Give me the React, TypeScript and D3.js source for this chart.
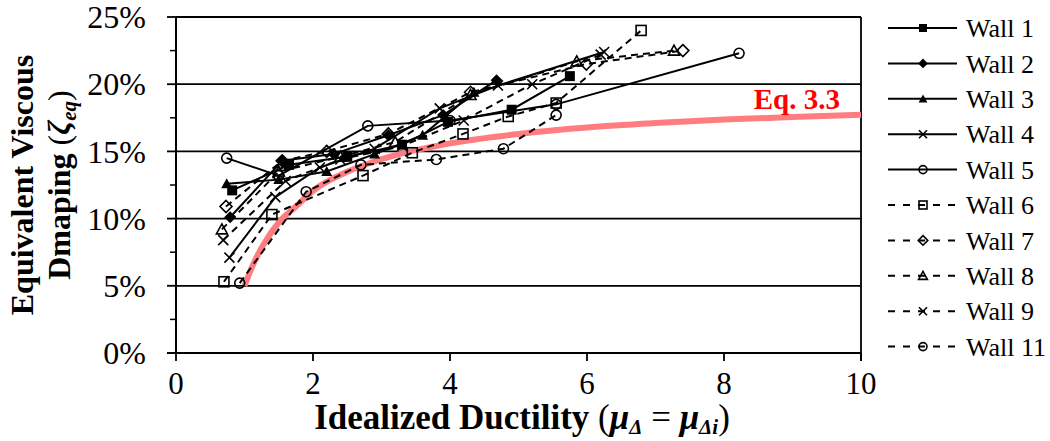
import React from "react";
import * as d3 from "d3";

const W = 1050;
const H = 441;

// x ticks / y ticks
const xTicks = [0, 2, 4, 6, 8, 10];
const yTicks = [0, 5, 10, 15, 20, 25];
const yMinorTicks = [2.5, 7.5, 12.5, 17.5, 22.5];

// series: [ductility, damping %]
const wall1 = [[0.82, 12.1], [1.65, 14.0], [2.5, 14.6], [3.3, 15.5], [3.97, 17.2], [4.9, 18.1], [5.75, 20.6]];
const wall2 = [[0.79, 10.1], [1.55, 14.3], [2.3, 14.8], [3.1, 16.2], [3.9, 17.7], [4.68, 20.3]];
const wall3 = [[0.74, 12.6], [1.5, 12.9], [2.2, 13.5], [2.9, 14.8], [3.6, 16.2], [4.35, 19.4]];
const wall4 = [[0.78, 7.1], [1.45, 11.6], [2.1, 13.8], [2.9, 15.2], [3.85, 18.2], [4.7, 19.9], [6.25, 22.4]];
const wall5 = [[0.74, 14.5], [1.5, 13.2], [2.8, 16.9], [4.0, 17.3], [5.55, 18.5], [8.22, 22.3]];
const wall6 = [[0.7, 5.3], [1.4, 10.3], [2.73, 13.2], [3.45, 14.9], [4.19, 16.3], [4.85, 17.6], [5.55, 18.6], [6.79, 24.0]];
const wall7 = [[0.73, 10.9], [1.55, 14.3], [2.2, 15.0], [3.1, 16.3], [4.3, 19.4], [5.99, 21.5], [7.4, 22.5]];
const wall8 = [[0.67, 9.2], [1.5, 13.5], [2.4, 14.6], [3.2, 15.7], [4.3, 19.2], [5.85, 21.7], [7.27, 22.5]];
const wall9 = [[0.69, 8.4], [1.6, 12.8], [2.4, 14.4], [3.3, 15.4], [4.2, 17.3], [5.2, 20.0], [6.2, 22.2]];
const wall11 = [[0.93, 5.2], [1.9, 12.0], [2.7, 14.0], [3.8, 14.4], [4.78, 15.2], [5.55, 17.7]];

// Eq. 3.3 curve
const eqMu = [1.0, 1.1, 1.2, 1.3, 1.5, 1.75, 2, 2.5, 3, 4, 5, 6, 7, 8, 9, 10];
const eqZeta = [5.0, 6.28, 7.36, 8.26, 9.71, 10.9, 12.07, 13.48, 14.42, 15.6, 16.3, 16.78, 17.11, 17.37, 17.56, 17.72];

const names = ["Wall 1", "Wall 2", "Wall 3", "Wall 4", "Wall 5", "Wall 6", "Wall 7", "Wall 8", "Wall 9", "Wall 11"];
const markers = ["sqf", "diaf", "trif", "x", "circ", "sq", "dia", "tri", "x", "circ"];
const dashed = [false, false, false, false, false, true, true, true, true, true];
const data = [wall1, wall2, wall3, wall4, wall5, wall6, wall7, wall8, wall9, wall11];

const FONT = "'Liberation Serif', 'Times New Roman', serif";

function Marker({ type, x, y, s }: { type: string; x: number; y: number; s: number }) {
  const h = s / 2;
  const sw = 1.6;
  switch (type) {
    case "sqf":
      return <rect x={x - h} y={y - h} width={s} height={s} fill="#000" />;
    case "sq":
      return <rect x={x - h} y={y - h} width={s} height={s} fill="none" stroke="#000" strokeWidth={sw} />;
    case "diaf":
      return <path d={`M${x},${y - h * 1.2}L${x + h * 1.2},${y}L${x},${y + h * 1.2}L${x - h * 1.2},${y}Z`} fill="#000" />;
    case "dia":
      return <path d={`M${x},${y - h * 1.2}L${x + h * 1.2},${y}L${x},${y + h * 1.2}L${x - h * 1.2},${y}Z`} fill="none" stroke="#000" strokeWidth={sw} />;
    case "trif":
      return <path d={`M${x},${y - h * 1.1}L${x + h * 1.1},${y + h * 0.9}L${x - h * 1.1},${y + h * 0.9}Z`} fill="#000" />;
    case "tri":
      return <path d={`M${x},${y - h * 1.1}L${x + h * 1.1},${y + h * 0.9}L${x - h * 1.1},${y + h * 0.9}Z`} fill="none" stroke="#000" strokeWidth={sw} />;
    case "x":
      return <path d={`M${x - h},${y - h}L${x + h},${y + h}M${x - h},${y + h}L${x + h},${y - h}`} stroke="#000" strokeWidth={sw} />;
    case "circ":
      return <circle cx={x} cy={y} r={h} fill="none" stroke="#000" strokeWidth={sw} />;
  }
  return null;
}

export default function App() {
  const x = d3.scaleLinear().domain([0, 10]).range([176, 861]);
  const y = d3.scaleLinear().domain([0, 25]).range([353, 17]);
  const line = d3.line<number[]>().x((d) => x(d[0])).y((d) => y(d[1]));
  const eqPts = eqMu.map((m, i) => [m, eqZeta[i]]);
  const eqLine = d3.line<number[]>().x((d) => x(d[0])).y((d) => y(d[1])).curve(d3.curveMonotoneX);

  const legX0 = 888, legX1 = 957, legMX = 923, legTX = 966;
  const legY = (i: number) => 28 + i * 35.4;

  return (
    <svg width={W} height={H} style={{ position: "absolute", left: 0, top: 0 }} fontFamily={FONT}>
      <rect width={W} height={H} fill="#fff" />
      {/* gridlines */}
      {yTicks.filter((t) => t > 0).map((t) => (
        <line key={t} x1={x(0)} x2={x(10)} y1={y(t)} y2={y(t)} stroke="#000" strokeWidth={1.8} />
      ))}
      {/* axes */}
      <line x1={x(0)} x2={x(0)} y1={y(25)} y2={y(0)} stroke="#000" strokeWidth={2} />
      <line x1={x(10)} x2={x(10)} y1={y(25)} y2={y(0) + 8} stroke="#000" strokeWidth={1.8} />
      <line x1={x(0) - 9} x2={x(10)} y1={y(0)} y2={y(0)} stroke="#000" strokeWidth={2} />
      {yTicks.map((t) => (
        <line key={t} x1={x(0) - 9} x2={x(0)} y1={y(t)} y2={y(t)} stroke="#000" strokeWidth={1.8} />
      ))}
      {yMinorTicks.map((t) => (
        <line key={t} x1={x(0) - 6} x2={x(0)} y1={y(t)} y2={y(t)} stroke="#000" strokeWidth={1.5} />
      ))}
      {xTicks.map((t) => (
        <line key={t} x1={x(t)} x2={x(t)} y1={y(0)} y2={y(0) + 8} stroke="#000" strokeWidth={1.8} />
      ))}
      {/* tick labels */}
      {yTicks.map((t) => (
        <text key={t} x={146} y={y(t)} dy="0.35em" textAnchor="end" fontSize={32}>{`${t}%`}</text>
      ))}
      {xTicks.map((t) => (
        <text key={t} x={x(t)} y={394} textAnchor="middle" fontSize={31}>{t}</text>
      ))}
      {/* eq curve */}
      <path d={eqLine(eqPts) || ""} fill="none" stroke="#FF7C80" strokeWidth={6} />
      <text x={840} y={109} textAnchor="end" fontSize={29} fontWeight="bold" fill="#FF0000">Eq. 3.3</text>
      {/* series */}
      {data.map((s, i) => (
        <g key={i}>
          <path d={line(s) || ""} fill="none" stroke="#000" strokeWidth={2} strokeDasharray={dashed[i] ? "7,5" : undefined} />
          {s.map((p, j) => (
            <Marker key={j} type={markers[i]} x={x(p[0])} y={y(p[1])} s={10} />
          ))}
        </g>
      ))}
      {/* legend */}
      {names.map((n, i) => (
        <g key={n}>
          <line x1={legX0} x2={legX1} y1={legY(i)} y2={legY(i)} stroke="#000" strokeWidth={2} strokeDasharray={dashed[i] ? "7,8" : undefined} />
          <Marker type={markers[i]} x={legMX} y={legY(i)} s={8} />
          <text x={legTX} y={legY(i)} dy="0.35em" fontSize={26}>{n}</text>
        </g>
      ))}
      {/* axis titles */}
      <text x={522} y={429} textAnchor="middle" fontSize={35} fontWeight="bold">
        Idealized Ductility <tspan fontWeight="normal">(</tspan>
        <tspan fontStyle="italic">μ</tspan>
        <tspan fontStyle="italic" fontSize={21} dy={5}>Δ</tspan>
        <tspan dy={-5} fontWeight="normal"> = </tspan>
        <tspan fontStyle="italic">μ</tspan>
        <tspan fontStyle="italic" fontSize={21} dy={5}>Δi</tspan>
        <tspan dy={-5} fontWeight="normal">)</tspan>
      </text>
      <g transform="translate(33,185) rotate(-90)">
        <text x={0} y={0} textAnchor="middle" fontSize={32} fontWeight="bold">Equivalent Viscous</text>
        <text x={0} y={37} textAnchor="middle" fontSize={32} fontWeight="bold">
          Dmaping <tspan fontWeight="normal">(</tspan>
          <tspan fontStyle="italic">ζ</tspan>
          <tspan fontStyle="italic" fontSize={21} dy={6}>eq</tspan>
          <tspan dy={-6} fontWeight="normal">)</tspan>
        </text>
      </g>
    </svg>
  );
}
